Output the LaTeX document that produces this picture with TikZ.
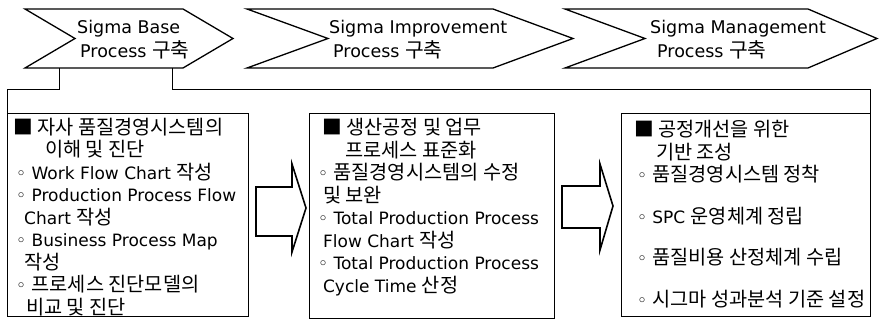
\documentclass[tikz,border=0pt]{standalone}
\usepackage{fontspec}
\setmainfont{DejaVu Sans}
\newfontfamily\kr[Scale=1.16]{Noto Sans CJK KR}
\newcommand{\ko}[1]{{\kr #1}}
\usetikzlibrary{calc,positioning}

\tikzset{
	chev/.style={line width=1.3pt, line join=miter},
	chtext/.style={align=left, anchor=west, inner sep=0pt, font=\fontsize{17.5}{24}\selectfont},
	box/.style={draw, line width=0.9pt, anchor=north west, inner sep=0pt},
	boxtext/.style={align=left, anchor=north west, inner sep=0pt, font=\fontsize{17}{22.5}\selectfont},
	blk/.style={line width=1.6pt, line join=miter},
	frame/.style={line width=1pt}
}

\begin{document}
\begin{tikzpicture}[x=1pt,y=-1pt]
		\useasboundingbox (0,0) rectangle (879,320);
		% chevrons
		\draw[chev] (25,9) -- (183,9) -- (233,38.5) -- (183,68) -- (25,68) -- (75,38.5) -- cycle;
		\draw[chev] (247,9) -- (493,9) -- (573,38.5) -- (493,68) -- (247,68) -- (328,38.5) -- cycle;
		\draw[chev] (565,9) -- (808,9) -- (877,38.5) -- (808,68) -- (565,68) -- (645,38.5) -- cycle;
		\node[chtext] (ch1) at (77,40) {Sigma Base\\\hspace*{3pt}Process \ko{구축}};
		\node[chtext] (ch2) at (329,40) {Sigma Improvement\\\hspace*{4pt}Process \ko{구축}};
		\node[chtext] (ch3) at (650,40) {Sigma Management\\\hspace*{7pt}Process \ko{구축}};
		\coordinate (c1a) at (59,68);
		\coordinate (c1b) at (172,68);
		% boxes
		\node[box, minimum width=241pt, minimum height=203pt] (b1) at (7,113) {};
		\node[box, minimum width=245pt, minimum height=205pt] (b2) at ([xshift=60pt]b1.north east) {};
		\node[box, minimum width=249pt, minimum height=203pt] (b3) at ([xshift=66pt]b2.north east) {};
		\draw[frame] (c1a) -- ++(0,22) -| (b1.north west);
		\draw[frame] (c1b) -- ++(0,22) -| (b3.north east);
		% texts
		\node[boxtext] (t1) at ($(b1.north west)+(6,4.5)$) {\ko{■ 자사 품질경영시스템의}\\
			\hspace*{32pt}\ko{이해 및 진단}\\
			\hspace*{3pt}◦ Work Flow Chart \ko{작성}\\
			\hspace*{3pt}◦ Production Process Flow\\
			\hspace*{11pt}Chart \ko{작성}\\
			\hspace*{3pt}◦ Business Process Map\\
			\hspace*{11pt}\ko{작성}\\
			\hspace*{3pt}◦ \ko{프로세스 진단모델의}\\
			\hspace*{13pt}\ko{비교 및 진단}};
		\node[boxtext] (t2) at ($(b2.north west)+(9,5)$) {\hspace*{4pt}\ko{■ 생산공정 및 업무}\\
			\hspace*{27pt}\ko{프로세스 표준화}\\
			◦ \ko{품질경영시스템의 수정}\\
			\hspace*{5pt}\ko{및 보완}\\
			◦ Total Production Process\\
			\hspace*{5pt}Flow Chart \ko{작성}\\
			◦ Total Production Process\\
			\hspace*{5pt}Cycle Time \ko{산정}};
		\node[boxtext] (t3) at ($(b3.north west)+(13,7)$) {\ko{■ 공정개선을 위한}\\
			\hspace*{22pt}\ko{기반 조성}\\
			\hspace*{3pt}◦ \ko{품질경영시스템 정착}\\[19pt]
			\hspace*{3pt}◦ SPC \ko{운영체계 정립}\\[19pt]
			\hspace*{3pt}◦ \ko{품질비용 산정체계 수립}\\[19pt]
			\hspace*{3pt}◦ \ko{시그마 성과분석 기준 설정}};
		% block arrows
		\draw[blk] (256,187) -- (292,187) -- (292,164) -- (306,208) -- (292,252) -- (292,236) -- (256,236) -- cycle;
		\draw[blk] (562,186) -- (600,186) -- (600,164) -- (613,206) -- (600,250) -- (600,228) -- (562,228) -- cycle;
\end{tikzpicture}
\end{document}
